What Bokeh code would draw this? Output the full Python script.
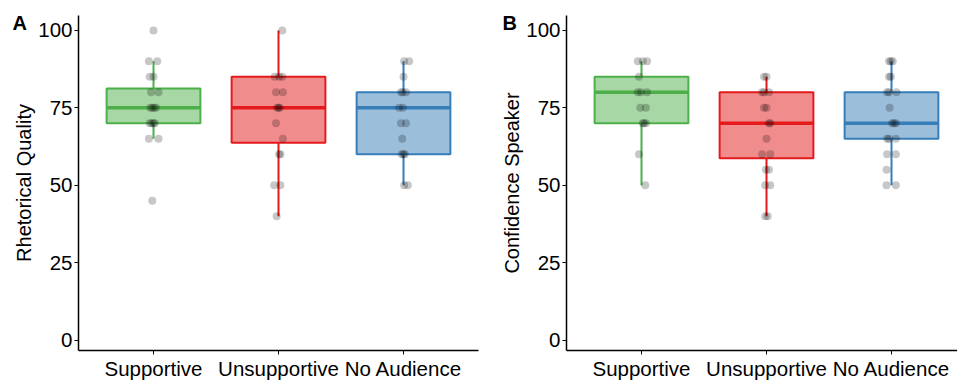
from bokeh.plotting import figure
from bokeh.layouts import row
from bokeh.models import FixedTicker, Range1d
from bokeh.embed import file_html
from bokeh.resources import INLINE

FONT = "Liberation Sans"

categories = ["Supportive", "Unsupportive", "No Audience"]
colors = ["#4DAF4A", "#E41A1C", "#377EB8"]
y_ticks = [0, 25, 50, 75, 100]

# ---- Panel A: Rhetorical Quality (box statistics) ----
a_q1 = [70, 63.75, 60]
a_med = [75, 75, 75]
a_q3 = [81.25, 85, 80]
a_lo = [65, 40, 50]
a_hi = [90, 100, 90]

a_sup_vals = [100, 90, 90, 85, 85, 80, 80, 75, 75, 75, 75, 70, 70, 70, 70, 65, 65, 45]
a_sup_jit = [0, -0.037, 0.03, -0.03, 0, -0.02, 0.04, -0.025, -0.01, 0.005, 0.02, -0.03, -0.015, 0, 0.01, -0.037, 0.04, -0.01]
a_uns_vals = [100, 85, 85, 85, 80, 80, 75, 75, 75, 70, 65, 60, 60, 50, 50, 40]
a_uns_jit = [0.03, -0.03, 0.005, 0.03, -0.02, 0.035, -0.01, 0, 0.01, -0.02, 0.035, 0.005, 0.015, -0.035, 0.015, -0.015]
a_noa_vals = [90, 90, 85, 80, 80, 80, 75, 75, 70, 70, 65, 60, 60, 60, 50, 50]
a_noa_jit = [0.005, 0.045, 0, -0.02, -0.005, 0.02, -0.035, -0.005, -0.02, 0.02, -0.01, -0.015, 0, 0.01, 0.005, 0.035]

# ---- Panel B: Confidence Speaker ----
b_q1 = [70, 58.75, 65]
b_med = [80, 70, 70]
b_q3 = [85, 80, 80]
b_lo = [50, 40, 50]
b_hi = [90, 85, 90]

b_sup_vals = [90, 90, 90, 85, 80, 80, 80, 75, 75, 70, 70, 70, 60, 50]
b_sup_jit = [-0.03, 0.01, 0.045, -0.02, -0.03, -0.005, 0.045, -0.01, 0.035, 0.01, 0.02, 0.035, -0.02, 0.03]
b_uns_vals = [85, 85, 80, 80, 80, 75, 75, 70, 70, 65, 60, 60, 55, 55, 50, 50, 40, 40]
b_uns_jit = [-0.02, 0, -0.035, -0.02, 0.02, -0.02, 0, 0.02, 0.03, 0, -0.035, 0.03, -0.005, 0.02, -0.01, 0.03, -0.01, 0.01]
b_noa_vals = [90, 90, 90, 85, 85, 80, 80, 80, 75, 70, 70, 70, 65, 65, 65, 60, 60, 55, 50, 50]
b_noa_jit = [-0.02, -0.005, 0.01, -0.02, -0.005, -0.035, -0.02, 0.04, -0.015, 0.005, 0.02, 0.035, -0.035, -0.02, 0.035, -0.035, 0.035, -0.04, -0.04, 0.035]

BOX_W = 0.75


def make_panel(ylabel, letter, q1, med, q3, lo, hi, vals, jits, width, mbl, mbr, x_end, letter_offset):
    p = figure(width=width, height=382, output_backend="svg", toolbar_location=None,
               x_range=Range1d(0.4, x_end), y_range=Range1d(-3.3, 104.8),
               min_border_left=mbl, min_border_right=mbr, min_border_top=15, min_border_bottom=0)
    p.background_fill_color = "white"
    p.border_fill_color = "white"
    p.outline_line_color = None
    p.grid.visible = False

    xs = [1, 2, 3]
    p.vbar(x=xs, width=BOX_W, bottom=q1, top=q3, fill_color=colors, fill_alpha=0.5,
           line_color=colors, line_width=2)
    p.segment(x0=xs, y0=q3, x1=xs, y1=hi, line_color=colors, line_width=2)
    p.segment(x0=xs, y0=lo, x1=xs, y1=q1, line_color=colors, line_width=2)
    p.segment(x0=[x - BOX_W / 2 for x in xs], y0=med, x1=[x + BOX_W / 2 for x in xs], y1=med,
              line_color=colors, line_width=3.5)

    for i, (v, j) in enumerate(zip(vals, jits)):
        px = [xs[i] + d for d in j]
        p.scatter(x=px, y=v, size=8, fill_color="black", fill_alpha=0.22, line_alpha=0)

    p.xaxis.ticker = FixedTicker(ticks=xs)
    p.xaxis.major_label_overrides = {1: categories[0], 2: categories[1], 3: categories[2]}
    p.yaxis.ticker = FixedTicker(ticks=y_ticks)
    p.yaxis.axis_label = ylabel
    for ax in (p.xaxis[0], p.yaxis[0]):
        ax.axis_line_color = "black"
        ax.axis_line_width = 1.5
        ax.major_tick_line_color = "black"
        ax.major_tick_line_width = 1
        ax.major_tick_out = 4
        ax.major_tick_in = 0
        ax.minor_tick_line_color = None
        ax.major_label_text_font = FONT
        ax.major_label_text_font_size = "20.5px"
        ax.major_label_text_color = "black"
        ax.major_label_standoff = 2
        ax.axis_label_text_font = FONT
        ax.axis_label_text_font_size = "20px"
        ax.axis_label_text_font_style = "normal"
        ax.axis_label_text_color = "black"
        ax.axis_label_standoff = 0

    # panel letter as the plot title, pulled to the left of the y axis
    p.title.text = letter
    p.title.align = "left"
    p.title.offset = letter_offset
    p.title.text_font = FONT
    p.title.text_font_size = "20px"
    p.title.text_font_style = "bold"
    p.title.text_color = "black"
    try:
        p.title.standoff = -36
    except Exception:
        p.title.standoff = 0
    return p


pa = make_panel("Rhetorical Quality", "A", a_q1, a_med, a_q3, a_lo, a_hi,
                [a_sup_vals, a_uns_vals, a_noa_vals], [a_sup_jit, a_uns_jit, a_noa_jit],
                490, 78, 12, 3.6, -66)
pb = make_panel("Confidence Speaker", "B", b_q1, b_med, b_q3, b_lo, b_hi,
                [b_sup_vals, b_uns_vals, b_noa_vals], [b_sup_jit, b_uns_jit, b_noa_jit],
                467, 76, 0, 3.528, -64)

layout = row(pa, pb, spacing=0)
open("out.html", "w").write(file_html(layout, INLINE))
